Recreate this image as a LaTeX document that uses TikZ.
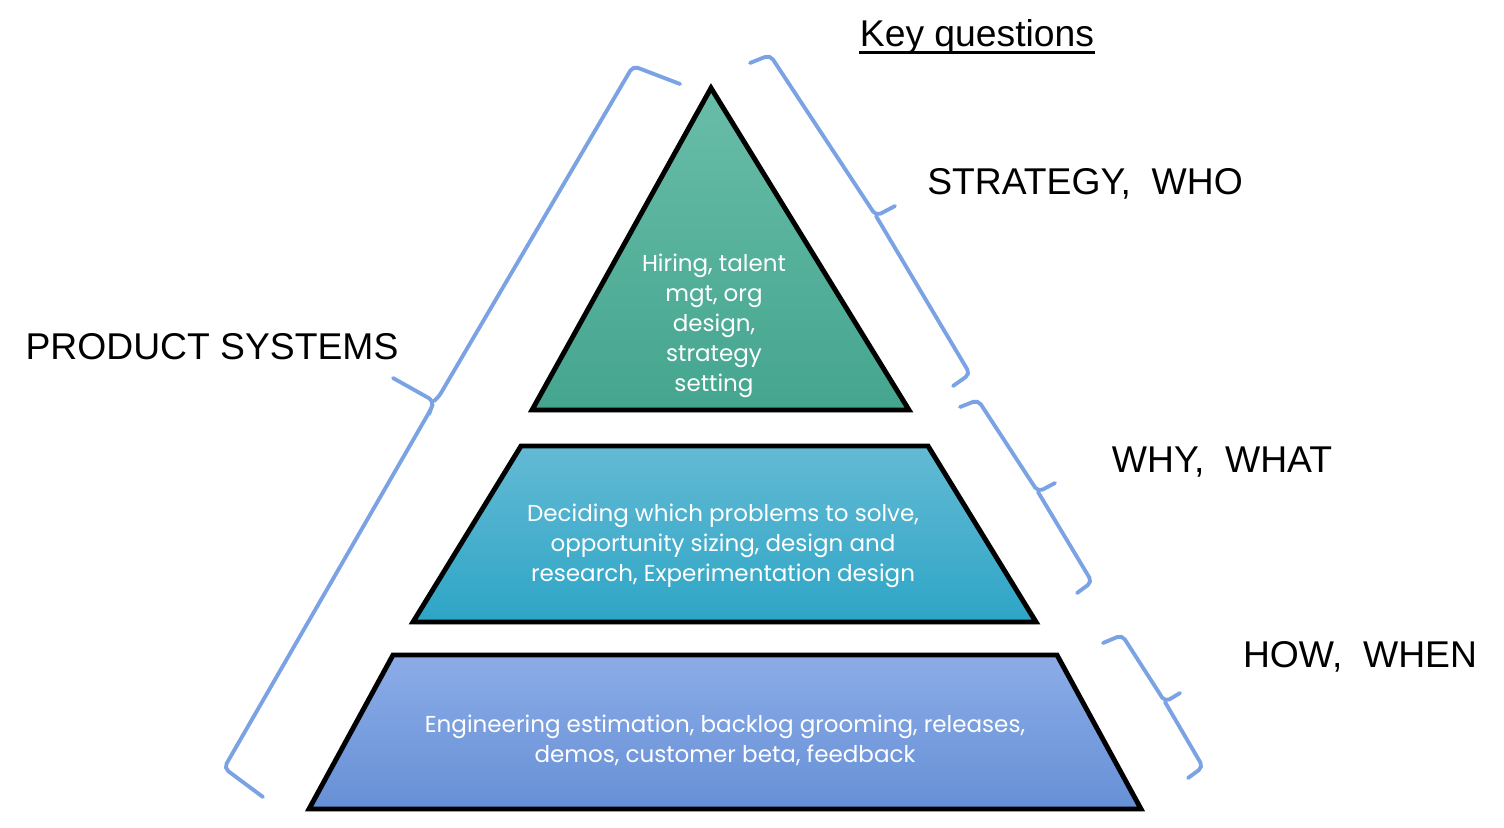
\documentclass[tikz,border=0pt]{standalone}
\usepackage{fontspec}
\setmainfont{Liberation Sans}
\newfontfamily\layerfont{Poppins}
\usetikzlibrary{shadows}

\definecolor{bracecol}{HTML}{7BA3E3}
\definecolor{tealtop}{HTML}{69BDA8}
\definecolor{tealbot}{HTML}{44A58F}
\definecolor{cyantop}{HTML}{63BAD4}
\definecolor{cyanbot}{HTML}{2EA5C6}
\definecolor{bluetop}{HTML}{8CACE7}
\definecolor{bluebot}{HTML}{6690D6}

\tikzset{
    layer/.style={draw=black, line width=1.4pt,
        drop shadow={opacity=0.3, shadow xshift=0.5pt, shadow yshift=-0.7pt}},
    brace/.style={draw=bracecol, line width=1.1pt, rounded corners=1.5pt, line cap=round},
    layertext/.style={text=white, align=center, inner sep=0pt,
        font=\layerfont\fontsize{6.55}{8.5}\selectfont},
    question/.style={inner sep=0pt, font=\fontsize{10.6}{12}\selectfont}
}

\begin{document}
\begin{tikzpicture}[x=0.01cm, y=-0.01cm]
    \useasboundingbox (0,0) rectangle (1504,827);

    % top layer
    \coordinate (T) at (711,88);
    \coordinate (TL) at (532,410);
    \coordinate (TR) at (909,410);
    % middle layer
    \coordinate (MA) at (521,446);
    \coordinate (MB) at (928,446);
    \coordinate (MC) at (1036,622);
    \coordinate (MD) at (413,622);
    % bottom layer
    \coordinate (BA) at (393,655);
    \coordinate (BB) at (1057,655);
    \coordinate (BC) at (1141,809);
    \coordinate (BD) at (309,809);

    \draw[layer, top color=tealtop, bottom color=tealbot] (T) -- (TR) -- (TL) -- cycle;
    \draw[layer, top color=cyantop, bottom color=cyanbot] (MA) -- (MB) -- (MC) -- (MD) -- cycle;
    \draw[layer, top color=bluetop, bottom color=bluebot] (BA) -- (BB) -- (BC) -- (BD) -- cycle;

    \node[layertext] (strat) at (714,326) {Hiring, talent\\ mgt, org\\ design,\\ strategy\\ setting};
    \node[layertext] (prob) at (723,546) {Deciding which problems to solve,\\ opportunity sizing, design and\\ research, Experimentation design};
    \node[layertext] (eng) at (725,740) {Engineering estimation, backlog grooming, releases,\\ demos, customer beta, feedback};

    % braces
    \draw[brace] (263,797) -- (224,768) -- (431,409) -- (434,401) -- (393,378);
    \draw[brace] (680,84) -- (633,66) -- (438,398) -- (434,401);
    \draw[brace] (750,63) -- (770,55) -- (876,216) -- (895,206);
    \draw[brace] (876,216) -- (970,374) -- (953,386);
    \draw[brace] (960,407) -- (978,400) -- (1038,492) -- (1055,483);
    \draw[brace] (1038,492) -- (1092,582) -- (1077,593);
    \draw[brace] (1103,643) -- (1122,635) -- (1165,702) -- (1180,693);
    \draw[brace] (1165,702) -- (1203,767) -- (1188,778);

    \node[question] (key) at (977,37) {Key questions};
    \draw[line width=0.85pt] ([yshift=-1.8pt]key.base west) -- ([yshift=-1.8pt]key.base east);
    \node[question] (who) at (1085,184) {STRATEGY,\ \ WHO};
    \node[question] (what) at (1222,462) {WHY,\ \ WHAT};
    \node[question] (when) at (1360,657) {HOW,\ \ WHEN};
    \node[question] (prod) at (212,347) {PRODUCT SYSTEMS};
\end{tikzpicture}
\end{document}
